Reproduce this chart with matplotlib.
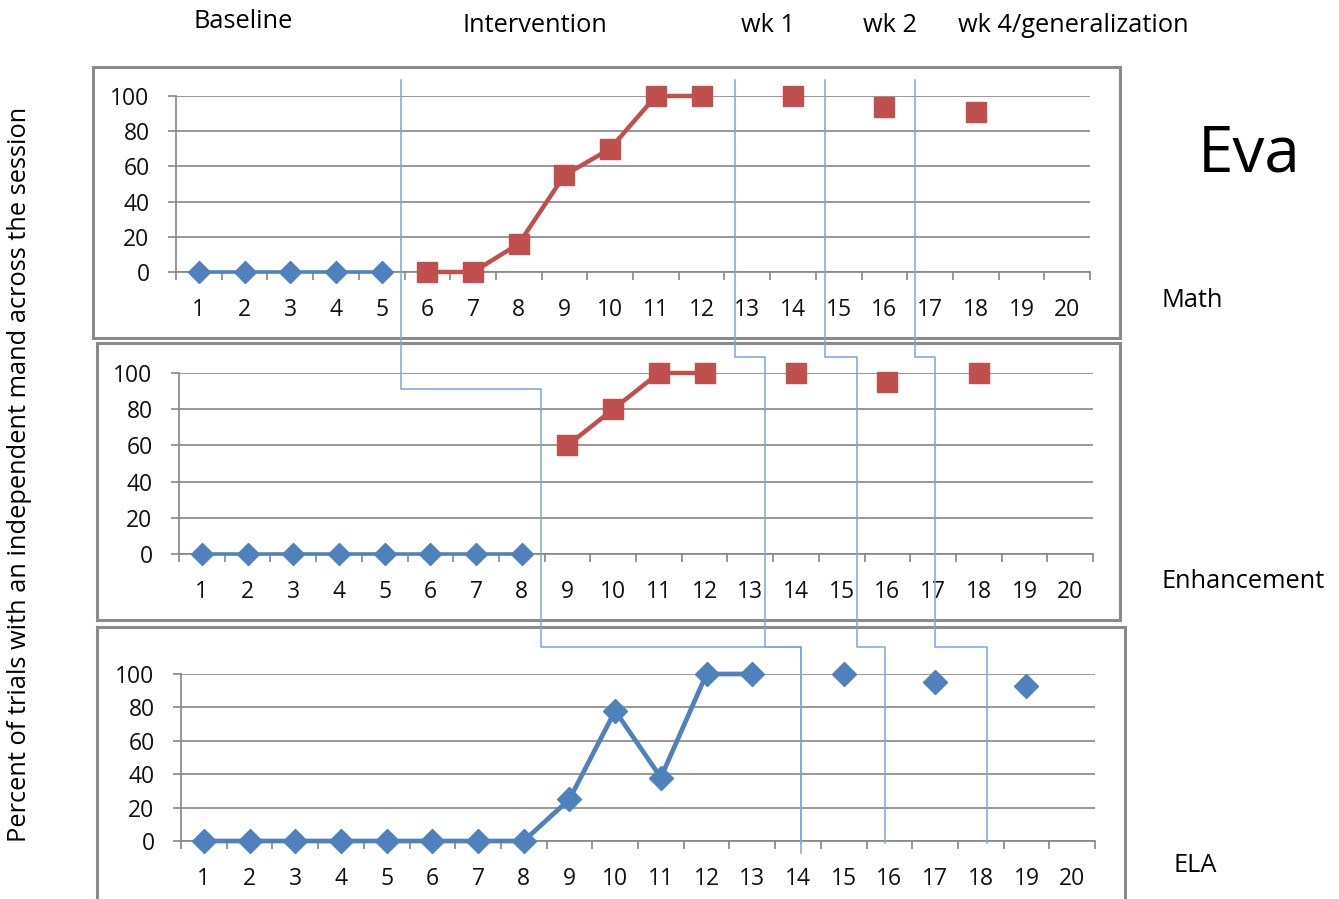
import numpy as np
import matplotlib
matplotlib.use("Agg")
import matplotlib.pyplot as plt
from matplotlib.patches import Rectangle
from matplotlib.lines import Line2D

plt.rcParams['font.family'] = ['Open Sans', 'DejaVu Sans']

# sessions shown on every x axis
sessions = list(range(1, 21))
yticks = [0, 20, 40, 60, 80, 100]

# Math
math_base_x = [1, 2, 3, 4, 5]
math_base_y = [0, 0, 0, 0, 0]
math_int_x = [6, 7, 8, 9, 10, 11, 12]
math_int_y = [0, 0, 16, 55, 70, 100, 100]
math_maint_x = [14, 16, 18]
math_maint_y = [100, 94, 91]

# Enhancement
enh_base_x = [1, 2, 3, 4, 5, 6, 7, 8]
enh_base_y = [0, 0, 0, 0, 0, 0, 0, 0]
enh_int_x = [9, 10, 11, 12]
enh_int_y = [60, 80, 100, 100]
enh_maint_x = [14, 16, 18]
enh_maint_y = [100, 95, 100]

# ELA
ela_x = [1, 2, 3, 4, 5, 6, 7, 8, 9, 10, 11, 12, 13]
ela_y = [0, 0, 0, 0, 0, 0, 0, 0, 25, 78, 38, 100, 100]
ela_maint_x = [15, 17, 19]
ela_maint_y = [100, 95, 93]

# phase change lines: x position in each panel (Math, Enhancement, ELA)
phase_x = [[5.42, 8.42, 14.06], [12.73, 13.32, 14.06], [14.7, 15.33, 15.9], [16.67, 17.04, 18.13]]
phase_jog_enh = [91, 109, 109, 109]
phase_bottom = [-7, -1, -1, -1]

phase_titles = ["Baseline", "Intervention", "wk 1", "wk 2", "wk 4/generalization"]

BLUE = '#4F81BD'
RED = '#C0504D'
GRID = '#868686'
W, H = 1339, 899

fig = plt.figure(figsize=(W / 100, H / 100), dpi=100)


def style_axes(ax):
    ax.set_xlim(0.5, 20.5)
    ax.set_ylim(0, 100)
    ax.set_xticks(sessions)
    ax.set_xticks(np.arange(0.5, 21, 1), minor=True)
    ax.set_yticks(yticks)
    ax.yaxis.grid(True, color=GRID, lw=1.2)
    ax.set_axisbelow(True)
    for s in ['top', 'right']:
        ax.spines[s].set_visible(False)
    for s in ['left', 'bottom']:
        ax.spines[s].set_color(GRID)
        ax.spines[s].set_linewidth(1.2)
    ax.tick_params(axis='x', which='major', length=0, pad=19, labelsize=16.5, labelcolor='#111111')
    ax.tick_params(axis='x', which='minor', length=6, width=1.2, color=GRID)
    ax.tick_params(axis='y', length=6, width=1.2, color=GRID, pad=13, labelsize=16.5, labelcolor='#111111')


def fig_box(x0, y0, x1, y1):
    # pixel box -> figure fraction rectangle
    fig.add_artist(Rectangle((x0 / W, 1 - y1 / H), (x1 - x0) / W, (y1 - y0) / H,
                             transform=fig.transFigure, fill=False, ec='#8a8a8a', lw=2.2))


# panel frames
fig_box(93, 67, 1120, 338)
fig_box(97, 343, 1120, 620)
fig_box(97, 627, 1125, 940)

ax_m = fig.add_axes([176 / W, 1 - 272 / H, 914 / W, 176 / H])
ax_e = fig.add_axes([179 / W, 1 - 554 / H, 914 / W, 181 / H])
ax_l = fig.add_axes([181 / W, 1 - 841 / H, 914 / W, 167 / H])
for ax in (ax_m, ax_e, ax_l):
    style_axes(ax)
    ax.patch.set_alpha(0)

sq = dict(marker='s', ms=14, color=RED, clip_on=False, zorder=3)
dm = dict(marker='D', ms=11, color=BLUE, clip_on=False, zorder=3)

ax_m.plot(math_base_x, math_base_y, lw=2.6, **dm)
ax_m.plot(math_int_x, math_int_y, lw=3.2, **sq)
ax_m.plot(math_maint_x, math_maint_y, ls='none', **sq)

ax_e.plot(enh_base_x, enh_base_y, lw=2.6, **dm)
ax_e.plot(enh_int_x, enh_int_y, lw=3.2, **sq)
ax_e.plot(enh_maint_x, enh_maint_y, ls='none', **sq)

dm_l = dict(dm, ms=12)
ax_l.plot(ela_x, ela_y, lw=3.4, **dm_l)
ax_l.plot(ela_maint_x, ela_maint_y, ls='none', **dm_l)

# phase change lines drawn across the panels
inv = fig.transFigure.inverted()


def pt(ax_x, xv, ax_y, yv):
    px = ax_x.transData.transform((xv, 0))[0]
    py = ax_y.transData.transform((0, yv))[1]
    return inv.transform((px, py))


for xs, jog, bot in zip(phase_x, phase_jog_enh, phase_bottom):
    pts = [pt(ax_m, xs[0], ax_m, 109), pt(ax_m, xs[0], ax_e, jog),
           pt(ax_e, xs[1], ax_e, jog), pt(ax_e, xs[1], ax_l, 116),
           pt(ax_l, xs[2], ax_l, 116), pt(ax_l, xs[2], ax_l, bot)]
    pts = np.array(pts)
    fig.add_artist(Line2D(pts[:, 0], pts[:, 1], transform=fig.transFigure,
                          color='#7AA7DB', lw=1.1, zorder=5))

# top phase titles
title_x = [243, 535, 768, 890, 1073]
title_y = [22, 25, 25, 25, 25]
for t, x, y in zip(phase_titles, title_x, title_y):
    fig.text(x / W, 1 - y / H, t, ha='center', va='center', fontsize=18.3)

fig.text(1198 / W, 1 - 155 / H, "Eva", ha='left', va='center', fontsize=46)
fig.text(1161 / W, 1 - 301 / H, "Math", ha='left', va='center', fontsize=18.3)
fig.text(1161 / W, 1 - 581 / H, "Enhancement", ha='left', va='center', fontsize=18.3)
fig.text(1173 / W, 1 - 866 / H, "ELA", ha='left', va='center', fontsize=18.3)
fig.text(20 / W, 1 - 474 / H, "Percent of trials with an independent mand across the session",
         rotation=90, ha='center', va='center', fontsize=18.3)

fig.savefig("out.png", dpi=100)
